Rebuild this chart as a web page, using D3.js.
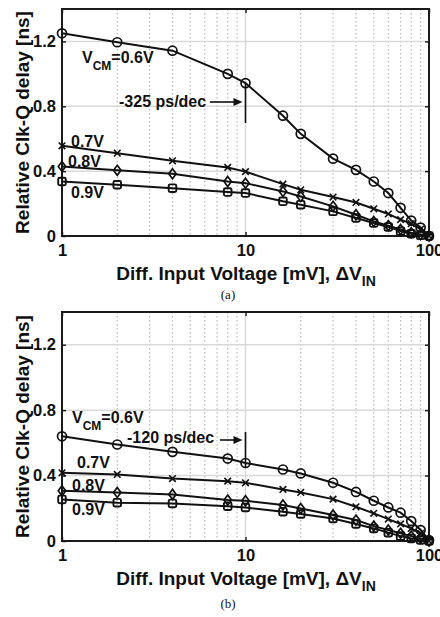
<!DOCTYPE html>
<html>
<head>
<meta charset="utf-8">
<script src="https://cdn.jsdelivr.net/npm/d3@7"></script>
<style>
  html, body { margin: 0; padding: 0; background: #fff; }
  svg { display: block; }
  text { font-family: "Liberation Sans", Arial, sans-serif; font-weight: bold; fill: #111; }
</style>
</head>
<body>
<svg id="chart" width="440" height="617"></svg>
<script>
// ---------- data ----------
const xValues = [1, 2, 4, 8, 10, 16, 20, 30, 40, 50, 60, 70, 80, 90, 100];
const xTickValues = [1, 10, 100];
const xTickLabels = ["1", "10", "100"];
const yTickValues = [0, 0.4, 0.8, 1.2];
const yTickLabels = ["0", "0.4", "0.8", "1.2"];
const seriesNames = ["0.6V", "0.7V", "0.8V", "0.9V"];
const markerTypes = ["circle", "cross", "diamond", "square"];

// panel (a)
const a_vcm06 = [1.25, 1.195, 1.143, 1.0, 0.943, 0.742, 0.63, 0.477, 0.408, 0.336, 0.265, 0.174, 0.095, 0.052, 0];
const a_vcm07 = [0.556, 0.511, 0.464, 0.423, 0.397, 0.32, 0.285, 0.24, 0.207, 0.168, 0.136, 0.101, 0.076, 0.043, 0];
const a_vcm08 = [0.429, 0.405, 0.384, 0.336, 0.326, 0.275, 0.244, 0.183, 0.131, 0.09, 0.064, 0.04, 0.02, 0.009, 0];
const a_vcm09 = [0.336, 0.316, 0.295, 0.271, 0.265, 0.214, 0.193, 0.152, 0.111, 0.08, 0.056, 0.03, 0.014, 0.004, 0];

// panel (b)
const b_vcm06 = [0.64, 0.59, 0.545, 0.504, 0.477, 0.437, 0.413, 0.356, 0.30, 0.246, 0.205, 0.173, 0.122, 0.067, 0.005];
const b_vcm07 = [0.417, 0.407, 0.382, 0.366, 0.356, 0.315, 0.297, 0.256, 0.209, 0.169, 0.134, 0.104, 0.077, 0.047, 0];
const b_vcm08 = [0.307, 0.297, 0.285, 0.25, 0.246, 0.22, 0.199, 0.159, 0.128, 0.091, 0.067, 0.047, 0.03, 0.016, 0];
const b_vcm09 = [0.254, 0.234, 0.23, 0.213, 0.205, 0.179, 0.165, 0.138, 0.104, 0.077, 0.051, 0.03, 0.016, 0.006, 0];

const slopeLabelA = "-325 ps/dec";
const slopeLabelB = "-120 ps/dec";

// ---------- drawing ----------
const svg = d3.select("#chart");
const L = 62, R = 429;

function drawPanel(cfg) {
  const g = svg.append("g");
  const x = d3.scaleLog().domain([1, 100]).range([L, R]);
  const y = d3.scaleLinear().domain([0, 1.4]).range([cfg.bottom, cfg.top]);

  // minor x gridlines (dotted)
  const minor = [];
  for (const dec of [1, 10]) for (let k = 2; k <= 9; k++) minor.push(dec * k);
  g.selectAll(".minor").data(minor).enter().append("line")
    .attr("x1", d => x(d)).attr("x2", d => x(d))
    .attr("y1", cfg.top).attr("y2", cfg.bottom)
    .attr("stroke", "#b8b8b8").attr("stroke-width", 1.2)
    .attr("stroke-dasharray", "1.5,2.5");

  // major gridlines
  g.selectAll(".ygrid").data(yTickValues.filter(v => v > 0)).enter().append("line")
    .attr("x1", L).attr("x2", R).attr("y1", d => y(d)).attr("y2", d => y(d))
    .attr("stroke", "#d9d9d9").attr("stroke-width", 1.5);
  g.append("line").attr("x1", x(10)).attr("x2", x(10))
    .attr("y1", cfg.top).attr("y2", cfg.bottom)
    .attr("stroke", "#d9d9d9").attr("stroke-width", 1.5);

  // axes via d3
  const yAxis = d3.axisLeft(y).tickValues(yTickValues)
    .tickFormat((d, i) => yTickLabels[i]).tickSizeInner(-4).tickSizeOuter(0).tickPadding(6);
  const ya = g.append("g").attr("transform", `translate(${L},0)`).call(yAxis);
  ya.select(".domain").remove();
  ya.selectAll("line").attr("stroke", "#222").attr("stroke-width", 1.5);
  ya.selectAll("text").style("font-size", "16.5px").attr("fill", "#111")
    .style("font-family", "'Liberation Sans', Arial, sans-serif").style("font-weight", "bold");

  const yAxisR = d3.axisRight(y).tickValues(yTickValues).tickFormat("").tickSizeInner(-4).tickSizeOuter(0);
  const yr = g.append("g").attr("transform", `translate(${R},0)`).call(yAxisR);
  yr.select(".domain").remove();
  yr.selectAll("line").attr("stroke", "#222").attr("stroke-width", 1.5);

  const xAxis = d3.axisBottom(x).tickValues(xTickValues)
    .tickFormat((d, i) => xTickLabels[i]).tickSizeInner(-4).tickSizeOuter(0).tickPadding(8);
  const xa = g.append("g").attr("transform", `translate(0,${cfg.bottom})`).call(xAxis);
  xa.select(".domain").remove();
  xa.selectAll("line").attr("stroke", "#222").attr("stroke-width", 1.5);
  xa.selectAll("text").style("font-size", "16.5px").attr("fill", "#111")
    .style("font-family", "'Liberation Sans', Arial, sans-serif").style("font-weight", "bold");

  const xAxisT = d3.axisTop(x).tickValues(xTickValues).tickFormat("").tickSizeInner(-4).tickSizeOuter(0);
  const xt = g.append("g").attr("transform", `translate(0,${cfg.top})`).call(xAxisT);
  xt.select(".domain").remove();
  xt.selectAll("line").attr("stroke", "#222").attr("stroke-width", 1.5);

  // frame
  g.append("rect").attr("x", L).attr("y", cfg.top).attr("width", R - L).attr("height", cfg.bottom - cfg.top)
    .attr("fill", "none").attr("stroke", "#1a1a1a").attr("stroke-width", 2);

  // series
  const line = d3.line().x(d => x(d[0])).y(d => y(d[1]));
  cfg.series.forEach((vals, si) => {
    const pts = xValues.map((xv, i) => [xv, vals[i]]);
    g.append("path").datum(pts).attr("d", line)
      .attr("fill", "none").attr("stroke", "#111").attr("stroke-width", 2);
    const mk = markerTypes[si];
    const mg = g.append("g");
    pts.forEach(p => {
      const cx = x(p[0]), cy = y(p[1]);
      if (mk === "circle") {
        mg.append("circle").attr("cx", cx).attr("cy", cy).attr("r", 4.5)
          .attr("fill", "none").attr("stroke", "#111").attr("stroke-width", 1.7);
      } else if (mk === "cross") {
        const s = 3.3;
        mg.append("path").attr("d", `M${cx - s},${cy - s}L${cx + s},${cy + s}M${cx - s},${cy + s}L${cx + s},${cy - s}`)
          .attr("stroke", "#111").attr("stroke-width", 1.6);
      } else if (mk === "diamond") {
        const s = 5;
        mg.append("path").attr("d", `M${cx},${cy - s}L${cx + s * 0.75},${cy}L${cx},${cy + s}L${cx - s * 0.75},${cy}Z`)
          .attr("fill", "none").attr("stroke", "#111").attr("stroke-width", 1.7);
      } else {
        const s = 3.8;
        mg.append("rect").attr("x", cx - s).attr("y", cy - s).attr("width", 2 * s).attr("height", 2 * s)
          .attr("rx", 1.5)
          .attr("fill", "none").attr("stroke", "#111").attr("stroke-width", 1.9);
      }
    });
  });

  // series labels
  cfg.labels.forEach((lb, i) => {
    const t = g.append("text").attr("x", lb.x).attr("y", lb.y).style("font-size", "16px");
    if (i === 0) {
      t.append("tspan").text("V");
      t.append("tspan").text("CM").attr("dy", 7).style("font-size", "12px");
      t.append("tspan").text("=" + seriesNames[0]).attr("dy", -7);
    } else {
      t.text(seriesNames[i]);
    }
  });

  // slope annotation
  g.append("text").attr("x", cfg.slope.x).attr("y", cfg.slope.y).style("font-size", "16px").text(cfg.slope.text);
  g.append("line").attr("x1", cfg.slope.ax0).attr("x2", x(10) - 10)
    .attr("y1", cfg.slope.ay).attr("y2", cfg.slope.ay).attr("stroke", "#111").attr("stroke-width", 1.6);
  g.append("path")
    .attr("d", `M${x(10) - 3},${cfg.slope.ay}L${x(10) - 12},${cfg.slope.ay - 4}L${x(10) - 12},${cfg.slope.ay + 4}Z`)
    .attr("fill", "#111");
  g.append("line").attr("x1", x(10)).attr("x2", x(10))
    .attr("y1", cfg.slope.v0).attr("y2", cfg.slope.v1).attr("stroke", "#111").attr("stroke-width", 1.6);

  // axis titles
  g.append("text").attr("transform", `translate(29,${(cfg.top + cfg.bottom) / 2}) rotate(-90)`)
    .attr("text-anchor", "middle").style("font-size", "19px").text("Relative Clk-Q delay [ns]");
  const xt2 = g.append("text").attr("x", 246).attr("y", cfg.bottom + 44)
    .attr("text-anchor", "middle").style("font-size", "19px");
  xt2.append("tspan").text("Diff. Input Voltage [mV], \u0394V");
  xt2.append("tspan").text("IN").attr("dy", 6).style("font-size", "14px");

  // caption
  svg.append("text").attr("x", 228).attr("y", cfg.captionY).attr("text-anchor", "middle")
    .style("font-family", "'Liberation Serif', 'Times New Roman', serif").style("font-weight", "normal")
    .style("font-size", "13px").text(cfg.caption);
}

drawPanel({
  top: 9, bottom: 236,
  series: [a_vcm06, a_vcm07, a_vcm08, a_vcm09],
  labels: [{x: 82, y: 63}, {x: 71, y: 147}, {x: 68, y: 167}, {x: 71, y: 198}],
  slope: {text: slopeLabelA, x: 119, y: 107, ax0: 210, ay: 102, v0: 83, v1: 123},
  caption: "(a)", captionY: 299
});

drawPanel({
  top: 312, bottom: 541,
  series: [b_vcm06, b_vcm07, b_vcm08, b_vcm09],
  labels: [{x: 72, y: 423}, {x: 77, y: 468}, {x: 72, y: 491}, {x: 72, y: 515}],
  slope: {text: slopeLabelB, x: 127, y: 443, ax0: 220, ay: 440, v0: 432, v1: 468},
  caption: "(b)", captionY: 608
});
</script>
</body>
</html>
